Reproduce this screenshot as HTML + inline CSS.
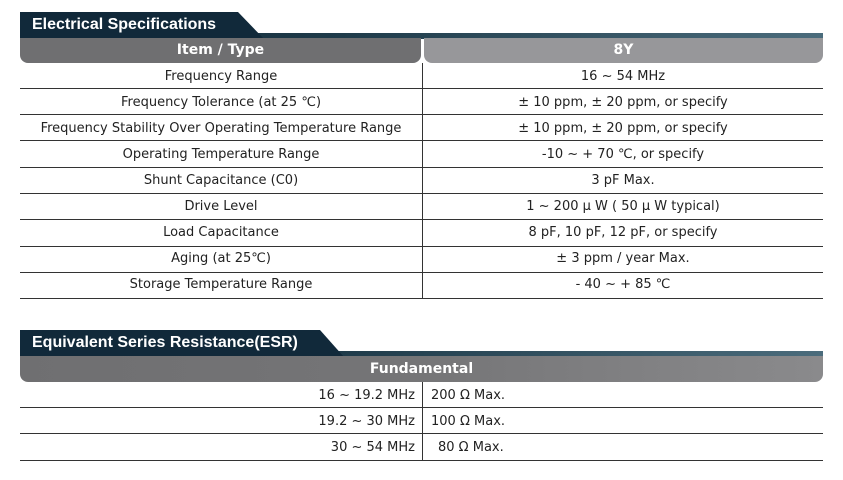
<!DOCTYPE html>
<html><head><meta charset="utf-8"><style>
body{margin:0;width:843px;height:480px;background:#fff;position:relative;overflow:hidden;font-family:"DejaVu Sans","Liberation Sans",sans-serif;color:#222}
.a{position:absolute}
.t{font-size:13px;text-align:center;line-height:26px}
.title{color:#fff;font-weight:bold;font-size:16px;line-height:26px;padding-left:12px;font-family:"Liberation Sans",sans-serif}
.hl{height:1px;background:#333;left:20px;width:803px}
.hd{color:#fff;font-weight:bold;font-size:14px;text-align:center;line-height:25px}
</style></head><body>
<div class="a" style="left:20px;top:33px;width:803px;height:6px;background:linear-gradient(90deg,#0f2633,#1f3b4a 40%,#4b6c7c)"></div>
<svg class="a" style="left:20px;top:12px" width="250" height="27"><polygon points="0,0 218,0 244,27 0,27" fill="#11293a"/></svg>
<div class="a title" style="left:20px;top:12px">Electrical Specifications</div>
<div class="a hd" style="left:20px;top:38px;width:401px;height:25px;background:#6f6f71;border-radius:0 0 8px 8px">Item / Type</div>
<div class="a hd" style="left:424px;top:38px;width:399px;height:25px;background:#97979a;border-radius:0 0 8px 8px">8Y</div>
<div class="a" style="left:422px;top:63px;width:1px;height:235px;background:#333"></div>
<div class="a" style="left:20px;top:64px;width:402px">
<div class="t">Frequency Range</div><div class="t">Frequency Tolerance (at 25 ℃)</div><div class="t">Frequency Stability Over Operating Temperature Range</div><div class="t">Operating Temperature Range</div><div class="t">Shunt Capacitance (C0)</div><div class="t">Drive Level</div><div class="t">Load Capacitance</div><div class="t">Aging (at 25℃)</div><div class="t">Storage Temperature Range</div></div>
<div class="a" style="left:423px;top:64px;width:400px">
<div class="t">16 ~ 54 MHz</div><div class="t">± 10 ppm, ± 20 ppm, or specify</div><div class="t">± 10 ppm, ± 20 ppm, or specify</div><div class="t">-10 ~ + 70 ℃, or specify</div><div class="t">3 pF Max.</div><div class="t">1 ~ 200 μ W ( 50 μ W typical)</div><div class="t">8 pF, 10 pF, 12 pF, or specify</div><div class="t">± 3 ppm / year Max.</div><div class="t">- 40 ~ + 85 ℃</div></div>
<div class="a hl" style="top:88px"></div><div class="a hl" style="top:114px"></div><div class="a hl" style="top:140px"></div><div class="a hl" style="top:167px"></div><div class="a hl" style="top:193px"></div><div class="a hl" style="top:219px"></div><div class="a hl" style="top:246px"></div><div class="a hl" style="top:272px"></div><div class="a hl" style="top:298px"></div>
<div class="a" style="left:20px;top:351px;width:803px;height:6px;background:linear-gradient(90deg,#0f2633,#1f3b4a 40%,#4b6c7c)"></div>
<svg class="a" style="left:20px;top:330px" width="330" height="27"><polygon points="0,0 300,0 324,27 0,27" fill="#11293a"/></svg>
<div class="a title" style="left:20px;top:330px">Equivalent Series Resistance(ESR)</div>
<div class="a hd" style="left:20px;top:356px;width:803px;height:26px;background:linear-gradient(90deg,#6f6f71,#757577 50%,#8a8a8c);border-radius:0 0 8px 8px;line-height:26px">Fundamental</div>
<div class="a" style="left:422px;top:382px;width:1px;height:78px;background:#333"></div>
<div class="a" style="left:20px;top:383px;width:395px;text-align:right">
<div class="t" style="text-align:right">16 ~ 19.2 MHz</div><div class="t" style="text-align:right">19.2 ~ 30 MHz</div><div class="t" style="text-align:right">30 ~ 54 MHz</div></div>
<div class="a" style="left:431px;top:383px;width:300px">
<div class="t" style="text-align:left">200 Ω Max.</div><div class="t" style="text-align:left">100 Ω Max.</div><div class="t" style="text-align:left;padding-left:7px">80 Ω Max.</div></div>
<div class="a hl" style="top:407px"></div><div class="a hl" style="top:433px"></div><div class="a hl" style="top:460px"></div>
</body></html>
